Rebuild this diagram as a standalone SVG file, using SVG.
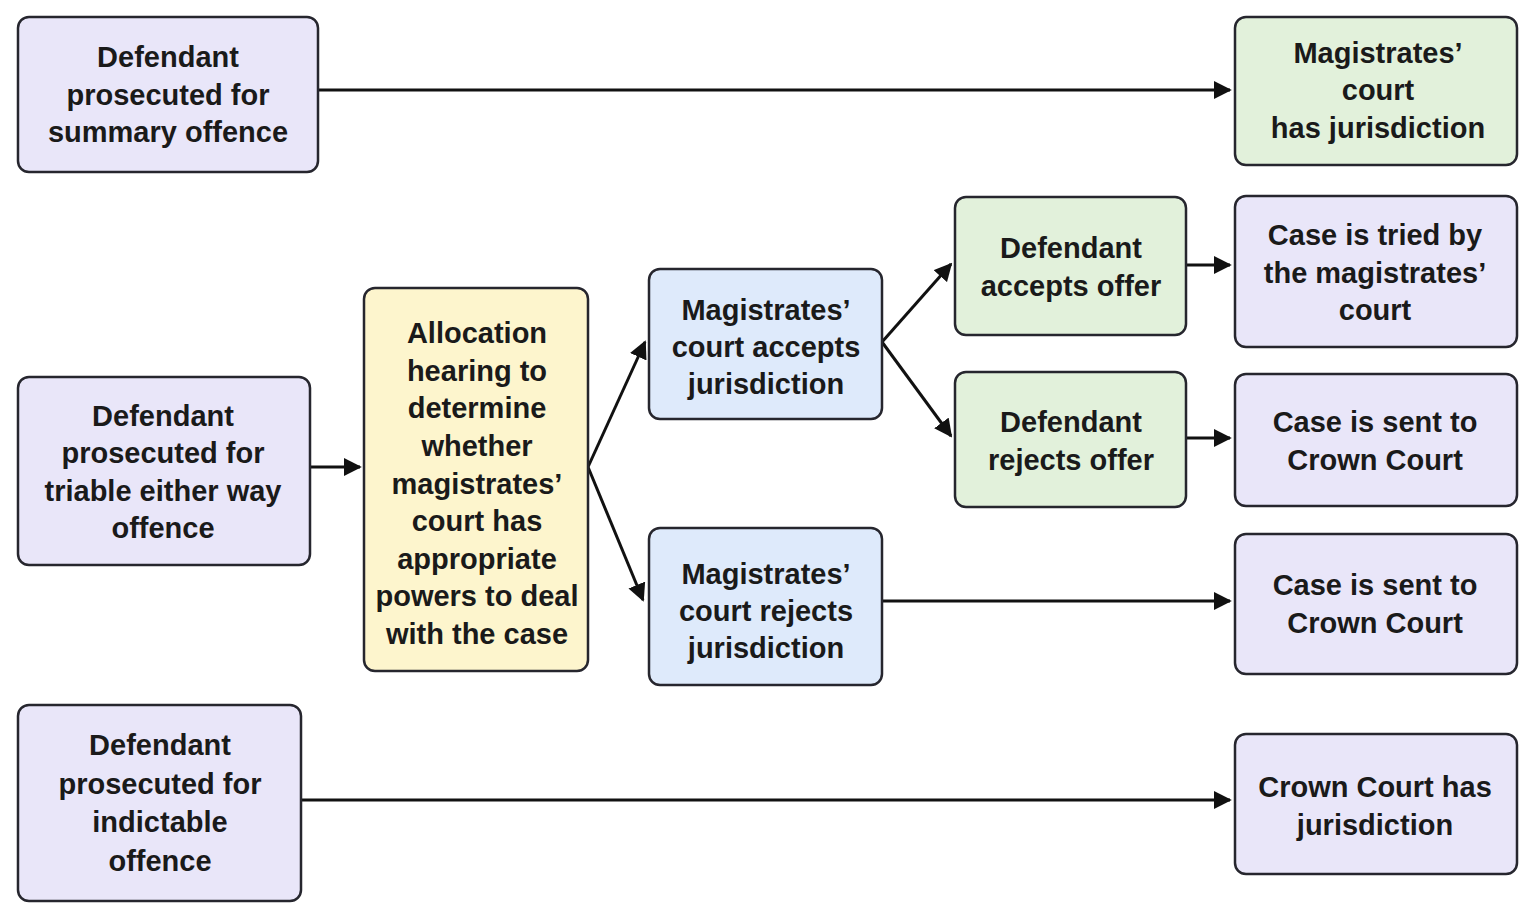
<svg xmlns="http://www.w3.org/2000/svg" width="1534" height="919" viewBox="0 0 1534 919">
<style>
.n{stroke:#26262e;stroke-width:2.5}
.p{fill:#e9e6f9}.g{fill:#e2f1db}.b{fill:#deeafb}.y{fill:#fdf5cd}
text{font-family:"Liberation Sans",Arial,sans-serif;font-weight:bold;font-size:29px;fill:#1a1a1a;text-anchor:middle;dominant-baseline:central}
.c{stroke:#111;stroke-width:3;fill:none;marker-end:url(#a)}
</style>
<defs><marker id="a" viewBox="0 0 10 10" refX="9" refY="5" markerWidth="6" markerHeight="6" orient="auto" markerUnits="strokeWidth"><path d="M0,0L10,5L0,10z" fill="#111"/></marker></defs>
<rect width="1534" height="919" fill="#fff"/>
<g id="connectors">
<path class="c" d="M318,90H1230"/>
<path class="c" d="M310,467H360"/>
<path class="c" d="M588,467L645,342"/>
<path class="c" d="M588,467L643,600"/>
<path class="c" d="M882,342L951,264"/>
<path class="c" d="M882,342L951,436"/>
<path class="c" d="M1186,265H1230"/>
<path class="c" d="M1186,438H1230"/>
<path class="c" d="M882,601H1230"/>
<path class="c" d="M301,800H1230"/>
</g>
<g id="nA"><rect class="n p" x="18" y="17" width="300" height="155" rx="11"/><text x="168" y="57">Defendant</text><text x="168" y="95">prosecuted for</text><text x="168" y="132">summary offence</text></g>
<g id="nB"><rect class="n g" x="1235" y="17" width="282" height="148" rx="11"/><text x="1378" y="53">Magistrates’</text><text x="1378" y="90">court</text><text x="1378" y="128">has jurisdiction</text></g>
<g id="nC"><rect class="n p" x="18" y="377" width="292" height="188" rx="11"/><text x="163" y="416">Defendant</text><text x="163" y="453">prosecuted for</text><text x="163" y="491">triable either way</text><text x="163" y="528">offence</text></g>
<g id="nD"><rect class="n y" x="364" y="288" width="224" height="383" rx="11"/><text x="477" y="333">Allocation</text><text x="477" y="371">hearing to</text><text x="477" y="408">determine</text><text x="477" y="446">whether</text><text x="477" y="484">magistrates’</text><text x="477" y="521">court has</text><text x="477" y="559">appropriate</text><text x="477" y="596">powers to deal</text><text x="477" y="634">with the case</text></g>
<g id="nE"><rect class="n b" x="649" y="269" width="233" height="150" rx="11"/><text x="766" y="310">Magistrates’</text><text x="766" y="347">court accepts</text><text x="766" y="384">jurisdiction</text></g>
<g id="nF"><rect class="n b" x="649" y="528" width="233" height="157" rx="11"/><text x="766" y="574">Magistrates’</text><text x="766" y="611">court rejects</text><text x="766" y="648">jurisdiction</text></g>
<g id="nG"><rect class="n g" x="955" y="197" width="231" height="138" rx="11"/><text x="1071" y="248">Defendant</text><text x="1071" y="286">accepts offer</text></g>
<g id="nH"><rect class="n g" x="955" y="372" width="231" height="135" rx="11"/><text x="1071" y="422">Defendant</text><text x="1071" y="460">rejects offer</text></g>
<g id="nI"><rect class="n p" x="1235" y="196" width="282" height="151" rx="11"/><text x="1375" y="235">Case is tried by</text><text x="1375" y="273">the magistrates’</text><text x="1375" y="310">court</text></g>
<g id="nJ"><rect class="n p" x="1235" y="374" width="282" height="132" rx="11"/><text x="1375" y="422">Case is sent to</text><text x="1375" y="460">Crown Court</text></g>
<g id="nK"><rect class="n p" x="1235" y="534" width="282" height="140" rx="11"/><text x="1375" y="585">Case is sent to</text><text x="1375" y="623">Crown Court</text></g>
<g id="nL"><rect class="n p" x="18" y="705" width="283" height="196" rx="11"/><text x="160" y="745">Defendant</text><text x="160" y="784">prosecuted for</text><text x="160" y="822">indictable</text><text x="160" y="861">offence</text></g>
<g id="nM"><rect class="n p" x="1235" y="734" width="282" height="140" rx="11"/><text x="1375" y="787">Crown Court has</text><text x="1375" y="825">jurisdiction</text></g>
</svg>
